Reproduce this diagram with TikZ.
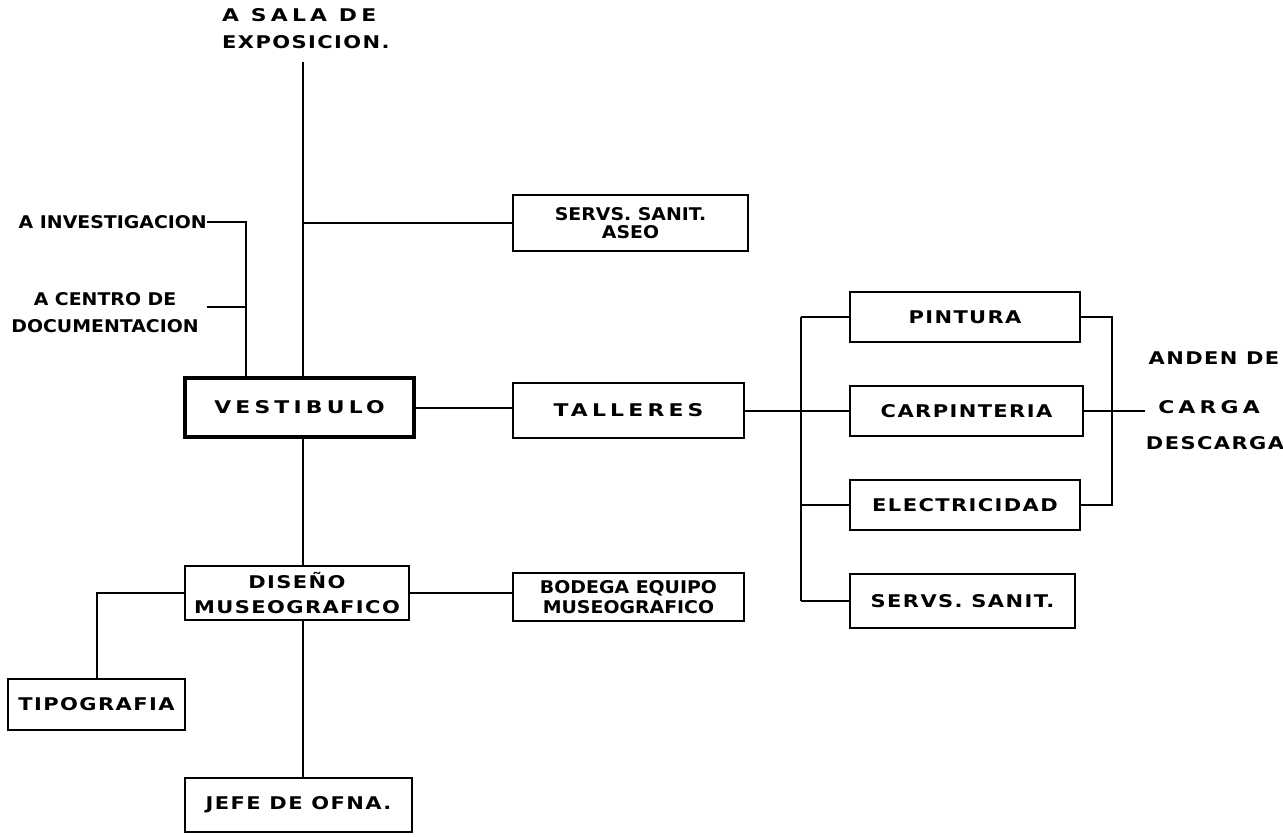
\documentclass[tikz,border=0pt]{standalone}
\usepackage{fontspec}
\usepackage{tikz}
\newfontfamily\midfam{DejaVu Sans}[FakeStretch=1.2,LetterSpace=8]
\newfontfamily\narrowfam{DejaVu Sans}[FakeStretch=1.08,LetterSpace=0]
\newfontfamily\widefam{DejaVu Sans}[FakeStretch=1.25,LetterSpace=24]
\newcommand\boxfont{\midfam\bfseries\fontsize{17.5}{22}\selectfont}
\newcommand\narrowboxfont{\narrowfam\bfseries\fontsize{17.5}{22}\selectfont}
\newcommand\wideboxfont{\widefam\bfseries\fontsize{17.5}{22}\selectfont}
\tikzset{
  box/.style={draw,line width=2.8pt,inner sep=0pt,minimum width=230pt,
    minimum height=52pt,align=center,font=\boxfont},
  mainbox/.style={box,line width=4.5pt},
  lbl/.style={inner sep=0pt,align=center,font=\boxfont},
  narrowtxt/.style={font=\narrowboxfont},
  widetxt/.style={font=\wideboxfont},
  link/.style={line width=2pt}
}

\begin{document}
\begin{tikzpicture}[x=1pt,y=-1pt]
  \useasboundingbox (0,0) rectangle (1283,836);
  \node[lbl,anchor=west,align=left] (sala) at (222,29) {{\wideboxfont A SALA DE}\\[5pt]EXPOSICION.};
  \node[lbl,narrowtxt,anchor=east] (inv) at (207,222) {A INVESTIGACION};
  \node[lbl,narrowtxt] (cen) at (105,313) {A CENTRO DE\\[5pt]DOCUMENTACION};
  \node[lbl] (anden) at (1214,358) {ANDEN DE};
  \node[lbl,widetxt] (carga) at (1209,407) {CARGA};
  \node[lbl] (desc) at (1215,443) {DESCARGA};

  \node[mainbox,widetxt,minimum width=229pt,minimum height=59pt] (vest) at (299.5,407.5) {VESTIBULO};
  \node[box,narrowtxt,minimum width=235pt,minimum height=56pt] (servs) at (630.5,223) {SERVS. SANIT.\\[-4pt]ASEO};
  \node[box,widetxt,minimum width=231pt,minimum height=55pt] (tall) at (628.5,410.5) {TALLERES};
  \node[box,minimum height=50pt] (pint) at (965,317) {PINTURA};
  \node[box,minimum width=233pt,minimum height=50pt] (carp) at (966.5,411) {CARPINTERIA};
  \node[box,minimum height=50pt] (elec) at (965,505) {ELECTRICIDAD};
  \node[box,minimum width=225pt,minimum height=54pt] (servs2) at (962.5,601) {SERVS. SANIT.};
  \node[box,minimum width=224pt,minimum height=54pt] (dis) at (297,593) {DISEÑO\\[3pt]MUSEOGRAFICO};
  \node[box,narrowtxt,minimum width=231pt,minimum height=48pt] (bod) at (628.5,597) {BODEGA EQUIPO\\[-2pt]MUSEOGRAFICO};
  \node[box,minimum width=177pt,minimum height=51pt] (tipo) at (96.5,704.5) {TIPOGRAFIA};
  \node[box,minimum width=227pt,minimum height=54pt] (jefe) at (298.5,805) {JEFE DE OFNA.};

  \coordinate (top) at (303,62);
  \coordinate (lv) at (246,0);
  \coordinate (cenend) at (207,307);
  \coordinate (lb) at (801,0);
  \coordinate (rb) at (1112,410);
  \coordinate (cargaend) at (1145,0);

  \draw[link] (top) -- (top |- vest.north);
  \draw[link] (top |- servs.west) -- (servs.west);
  \draw[link] (inv.east) -| (lv |- vest.north);
  \draw[link] (cenend) -- (cenend -| lv);
  \draw[link] (vest.east) -- (vest.east -| tall.west);
  \draw[link] (tall.east) -- (tall.east -| lb);
  \draw[link] (lb |- pint.west) -- (lb |- servs2.west);
  \foreach \n in {pint,carp,elec,servs2}
    \draw[link] (lb |- \n.west) -- (\n.west);
  \draw[link] (pint.east) -| (rb) |- (elec.east);
  \draw[link] (carp.east) -- (carp.east -| cargaend);
  \draw[link] (top |- vest.south) -- (top |- dis.north);
  \draw[link] (dis.west) -| (tipo.north);
  \draw[link] (dis.east) -- (dis.east -| bod.west);
  \draw[link] (top |- dis.south) -- (top |- jefe.north);
\end{tikzpicture}
\end{document}
